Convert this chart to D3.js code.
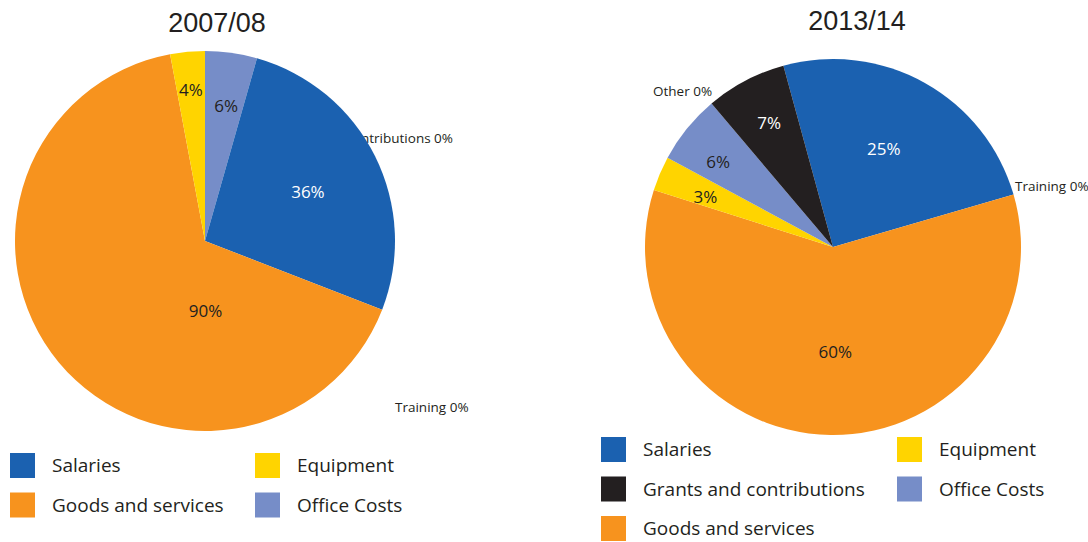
<!DOCTYPE html>
<html>
<head>
<meta charset="utf-8">
<script src="https://cdn.jsdelivr.net/npm/d3@7"></script>
<style>
  html, body { margin: 0; padding: 0; background: #fff; }
  svg { display: block; }
</style>
</head>
<body>
<svg id="chart" width="1088" height="542"></svg>
<script>
// Spending breakdown, two years side by side
const pie1Title = "2007/08";
const pie1Categories = ["Office Costs", "Salaries", "Grants and contributions", "Training", "Goods and services", "Equipment"];
const pie1Values = [6, 36, 0, 0, 90, 4];

const pie2Title = "2013/14";
const pie2Categories = ["Salaries", "Training", "Goods and services", "Equipment", "Office Costs", "Other", "Grants and contributions"];
const pie2Values = [25, 0, 60, 3, 6, 0, 7];

const legend1Items = ["Salaries", "Goods and services", "Equipment", "Office Costs"];
const legend2Items = ["Salaries", "Grants and contributions", "Goods and services", "Equipment", "Office Costs"];

const colour = d3.scaleOrdinal()
  .domain(["Salaries", "Goods and services", "Equipment", "Office Costs", "Grants and contributions", "Training", "Other"])
  .range(["#1b61b0", "#f7931e", "#ffd400", "#768dc8", "#231f20", "#999999", "#999999"]);

const lightText = new Set(["Salaries", "Grants and contributions"]);
const FONT = "'Open Sans', 'Noto Sans', sans-serif";
const svg = d3.select("#chart");
const deg = Math.PI / 180;

function polar(r, a) { return [r * Math.sin(a), -r * Math.cos(a)]; }

function drawPie(opts) {
  const g = svg.append("g").attr("transform", `translate(${opts.cx},${opts.cy})`);
  const data = opts.categories.map((c, i) => ({ cat: c, value: opts.values[i] }));
  const pie = d3.pie().sort(null).value(d => d.value)
    .startAngle(opts.start).endAngle(opts.start + 2 * Math.PI);
  const arcs = pie(data);
  const arc = d3.arc().innerRadius(0).outerRadius(opts.r);

  // labels for empty categories go underneath, so slices can cover them
  const zeroLayer = g.append("g");
  const sliceLayer = g.append("g");
  const labelLayer = g.append("g");

  sliceLayer.selectAll("path").data(arcs.filter(d => d.data.value > 0)).join("path")
    .attr("d", arc)
    .attr("fill", d => colour(d.data.cat));

  arcs.forEach(d => {
    const v = d.data.value;
    if (v > 0) {
      const spec = opts.inner[d.data.cat];
      const mid = (d.startAngle + d.endAngle) / 2 + (spec.da || 0) * deg;
      const [x, y] = polar(opts.r * spec.rf, mid);
      labelLayer.append("text")
        .attr("x", x).attr("y", y)
        .attr("text-anchor", "middle").attr("dy", "0.36em")
        .attr("font-family", FONT).attr("font-size", 17)
        .attr("fill", lightText.has(d.data.cat) ? "#ffffff" : "#231f20")
        .text(v + "%");
    } else {
      const spec = opts.outer[d.data.cat];
      zeroLayer.append("text")
        .attr("x", spec.dx).attr("y", spec.dy)
        .attr("text-anchor", spec.anchor)
        .attr("font-family", FONT).attr("font-size", 13.5)
        .attr("fill", "#231f20")
        .text(d.data.cat + " " + v + "%");
    }
  });

  svg.append("text")
    .attr("x", opts.tx).attr("y", opts.ty)
    .attr("text-anchor", "middle")
    .attr("font-family", "'Liberation Sans', Arial, sans-serif")
    .attr("font-size", 27).attr("fill", "#231f20")
    .text(opts.title);
}

function drawLegend(items, cols, x0, y0, colGap, rowGap) {
  const g = svg.append("g");
  items.forEach((name, i) => {
    const col = i < cols[0] ? 0 : 1;
    const row = col === 0 ? i : i - cols[0];
    const x = x0 + col * colGap, y = y0 + row * rowGap;
    g.append("rect").attr("x", x).attr("y", y).attr("width", 25).attr("height", 25)
      .attr("fill", colour(name));
    g.append("text").attr("x", x + 42).attr("y", y + 12.5).attr("dy", "0.36em")
      .attr("font-family", FONT).attr("font-size", 19).attr("fill", "#231f20")
      .text(name);
  });
}

drawPie({
  title: pie1Title, tx: 217, ty: 32,
  categories: pie1Categories, values: pie1Values,
  cx: 205, cy: 241, r: 190, start: 0,
  inner: {
    "Office Costs": { rf: 0.72, da: 1 },
    "Salaries": { rf: 0.6, da: 1 },
    "Goods and services": { rf: 0.37, da: -50.7 },
    "Equipment": { rf: 0.8, da: 0 }
  },
  outer: {
    "Grants and contributions": { dx: 248, dy: -98, anchor: "end" },
    "Training": { dx: 190, dy: 171, anchor: "start" }
  }
});

drawPie({
  title: pie2Title, tx: 857, ty: 30,
  categories: pie2Categories, values: pie2Values,
  cx: 833, cy: 247, r: 188, start: -15.3 * deg,
  inner: {
    "Salaries": { rf: 0.59, da: -2 },
    "Goods and services": { rf: 0.56, da: -2 },
    "Equipment": { rf: 0.73, da: -1.5 },
    "Office Costs": { rf: 0.76, da: -2.5 },
    "Grants and contributions": { rf: 0.74, da: 0.5 }
  },
  outer: {
    "Training": { dx: 182, dy: -56, anchor: "start" },
    "Other": { dx: -180, dy: -151, anchor: "start" }
  }
});

drawLegend(legend1Items, [2, 2], 10, 453, 245, 39.5);
drawLegend(legend2Items, [3, 2], 601, 437, 296, 39.5);
</script>
</body>
</html>
